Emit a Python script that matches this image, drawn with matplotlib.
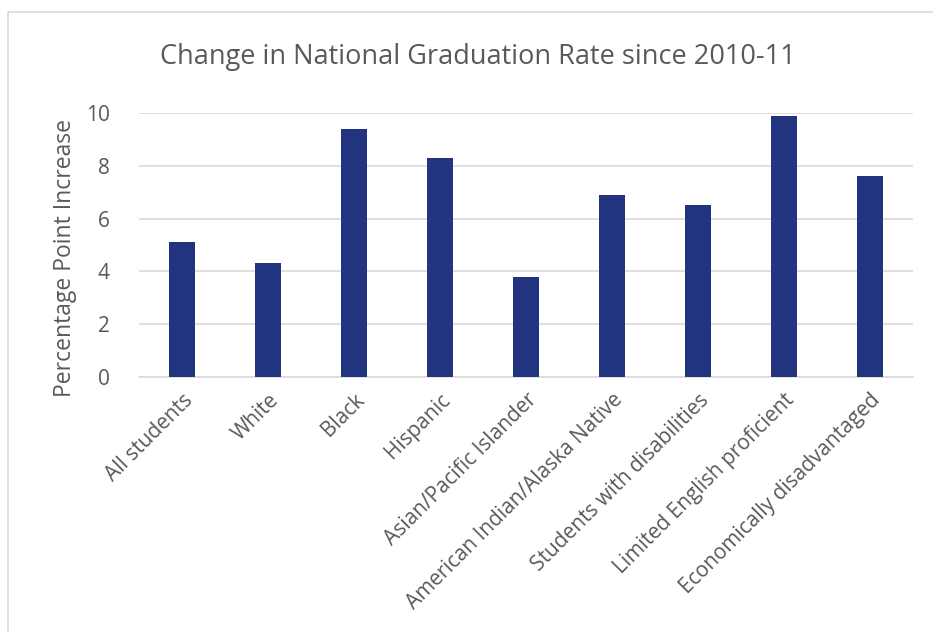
import matplotlib.pyplot as plt
from matplotlib.patches import Rectangle

categories = ['All students', 'White', 'Black', 'Hispanic', 'Asian/Pacific Islander',
              'American Indian/Alaska Native', 'Students with disabilities',
              'Limited English proficient', 'Economically disadvantaged']
values = [5.1, 4.3, 9.4, 8.3, 3.8, 6.9, 6.5, 9.9, 7.6]
yticks = [0, 2, 4, 6, 8, 10]

plt.rcParams['font.family'] = ['Open Sans', 'DejaVu Sans']
txt = '#595959'

fig = plt.figure(figsize=(9.33, 6.32), dpi=100)
# chart border (Excel chart area)
fig.patches.append(Rectangle((8 / 933, -0.1), 1.2, 1 - 12 / 632 + 0.1, transform=fig.transFigure,
                             fill=False, edgecolor='#D9D9D9', linewidth=1.2))

ax = fig.add_axes([139 / 933, 1 - 377 / 632, (913 - 139) / 933, (377 - 113) / 632])
x = range(len(categories))
ax.bar(x, values, width=0.31, color='#22347F', zorder=3)
ax.set_xlim(-0.5, len(categories) - 0.5)
ax.set_ylim(0, 10)
ax.set_yticks(yticks)
ax.grid(axis='y', color='#D9D9D9', linewidth=1.2, zorder=0)
for s in ['top', 'right', 'left']:
    ax.spines[s].set_visible(False)
ax.spines['bottom'].set_color('#D9D9D9')
ax.spines['bottom'].set_linewidth(1.2)
ax.tick_params(length=0, labelsize=15, colors=txt)
ax.tick_params(axis='y', pad=21)
ax.tick_params(axis='x', pad=9)
ax.set_xticks(list(x))
ax.set_xticklabels(categories, rotation=45, ha='right', rotation_mode='anchor')

# y label sits a bit lower than the axes centre, as in the original
fig.text(65 / 933, 1 - 258 / 632, 'Percentage Point Increase', rotation=90,
         ha='center', va='center', fontsize=16.5, color=txt)
fig.text(0.512, 0.91, 'Change in National Graduation Rate since 2010-11',
         ha='center', va='center', fontsize=19.5, color=txt)

fig.savefig('out.png', dpi=100)
